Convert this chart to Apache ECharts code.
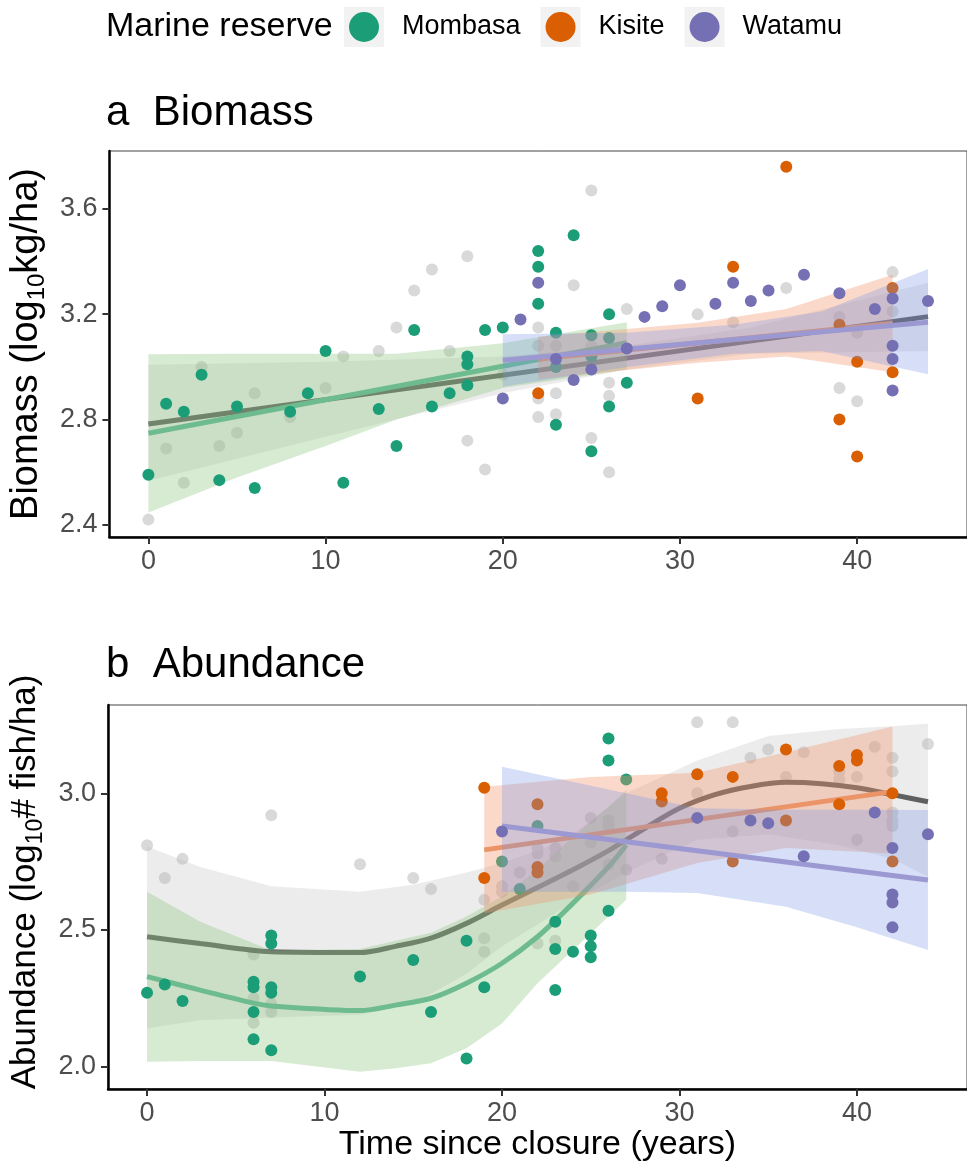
<!DOCTYPE html>
<html>
<head>
<meta charset="utf-8">
<script src="https://cdn.jsdelivr.net/npm/echarts@6/dist/echarts.min.js"></script>
<style>
  html, body { margin: 0; padding: 0; background: #fff; }
  #chart { width: 967px; height: 1169px; }
</style>
</head>
<body>
<div id="chart"></div>
<script>
const font = 'Liberation Sans, Arial, sans-serif'

const xTicks = [0, 10, 20, 30, 40]
const bioTicks = [2.4, 2.8, 3.2, 3.6]
const abuTicks = [2.0, 2.5, 3.0]
const reserves = ['Mombasa', 'Kisite', 'Watamu']

// ---- a Biomass: points [year, value]
const bioMombasa = [[0, 2.59], [1, 2.86], [2, 2.83], [3, 2.97], [4, 2.57], [5, 2.85], [6, 2.54], [8, 2.83], [9, 2.90],
  [10, 3.06], [11, 2.56], [13, 2.84], [14, 2.70], [15, 3.14], [16, 2.85], [17, 2.90], [18, 3.04], [18, 3.01], [18, 2.93],
  [19, 3.14], [20, 3.15], [22, 3.44], [22, 3.38], [22, 3.24], [23, 3.13], [23, 3.00], [23, 2.78], [24, 3.50], [25, 3.12],
  [25, 3.04], [25, 2.68], [26, 3.20], [26, 3.11], [26, 2.85], [27, 2.94]]
const bioKisite = [[22, 2.90], [31, 2.88], [33, 3.38], [36, 3.76], [39, 3.16], [39, 2.80], [40, 3.02], [40, 2.66],
  [42, 3.30], [42, 2.98]]
const bioWatamu = [[20, 2.88], [21, 3.18], [22, 3.32], [23, 3.03], [24, 2.95], [25, 2.99], [27, 3.07], [28, 3.19],
  [29, 3.23], [30, 3.31], [32, 3.24], [33, 3.32], [34, 3.25], [35, 3.29], [37, 3.35], [39, 3.28], [41, 3.22], [42, 3.26],
  [42, 3.08], [42, 3.03], [42, 2.91], [44, 3.25]]
const bioGray = [[0, 2.42], [1, 2.69], [2, 2.56], [3, 3.00], [4, 2.70], [5, 2.75], [6, 2.90], [8, 2.81], [10, 2.92],
  [11, 3.04], [13, 3.06], [14, 3.15], [15, 3.29], [16, 3.37], [17, 3.06], [18, 3.42], [18, 2.72], [19, 2.61], [20, 2.97],
  [22, 3.15], [22, 3.08], [22, 2.88], [22, 2.81], [23, 3.08], [23, 2.90], [23, 2.82], [24, 3.31], [25, 3.67], [25, 3.08],
  [25, 2.73], [26, 2.94], [26, 2.89], [26, 2.60], [27, 3.22], [31, 3.20], [33, 3.17], [36, 3.30], [39, 3.19], [39, 2.92],
  [40, 3.13], [40, 2.87], [42, 3.36], [42, 3.21]]

// fitted lines [year, value] and bands [year, lower, upper]
const bioGrayFit = [[0, 2.783], [44, 3.191]]
const bioGrayBand = [[0, 2.568, 3.008], [10, 2.735, 3.02], [20, 2.90, 3.04], [27, 2.99, 3.08], [34, 3.05, 3.15], [44, 3.06, 3.32]]
const bioMombasaFit = [[0, 2.748], [27, 3.092]]
const bioMombasaBand = [[0, 2.447, 3.048], [5, 2.58, 3.05], [10, 2.70, 3.05], [14, 2.80, 3.05], [20, 2.92, 3.09], [27, 2.99, 3.17]]
const bioKisiteFit = [[22, 3.03], [42, 3.165]]
const bioKisiteBand = [[22, 2.953, 3.115], [31, 3.016, 3.168], [36, 3.04, 3.22], [42, 2.98, 3.35]]
const bioWatamuFit = [[20, 3.025], [44, 3.17]]
const bioWatamuBand = [[20, 2.925, 3.124], [27, 3.00, 3.13], [33, 3.05, 3.16], [38, 3.06, 3.21], [44, 2.972, 3.372]]

// ---- b Abundance
const abuMombasa = [[0, 2.27], [1, 2.30], [2, 2.24], [6, 2.31], [6, 2.29], [6, 2.20], [6, 2.10], [7, 2.48], [7, 2.45],
  [7, 2.29], [7, 2.27], [7, 2.06], [12, 2.33], [15, 2.39], [16, 2.20], [18, 2.46], [18, 2.03], [19, 2.29], [20, 2.75],
  [21, 2.65], [22, 2.88], [23, 2.53], [23, 2.43], [23, 2.28], [24, 2.42], [25, 2.48], [25, 2.44], [25, 2.40], [26, 3.20],
  [26, 3.12], [26, 2.57], [27, 3.05]]
const abuKisite = [[19, 3.02], [19, 2.69], [22, 2.96], [22, 2.73], [22, 2.71], [29, 3.00], [29, 2.97], [31, 3.07],
  [33, 3.06], [33, 2.75], [36, 3.16], [36, 2.90], [39, 3.10], [39, 2.96], [40, 3.14], [40, 3.12], [42, 3.00], [42, 2.75]]
const abuWatamu = [[20, 2.86], [31, 2.91], [34, 2.90], [35, 2.89], [37, 2.77], [41, 2.93], [42, 2.80], [42, 2.63],
  [42, 2.60], [42, 2.51], [44, 2.85]]
const abuGray = [[0, 2.81], [1, 2.69], [2, 2.76], [6, 2.41], [6, 2.25], [6, 2.16], [7, 2.92], [7, 2.23], [7, 2.20],
  [12, 2.74], [15, 2.69], [16, 2.65], [19, 2.61], [19, 2.47], [19, 2.42], [20, 2.66], [20, 2.64], [21, 2.71], [22, 2.80],
  [22, 2.78], [22, 2.45], [23, 2.80], [23, 2.77], [23, 2.46], [24, 2.66], [25, 2.91], [25, 2.82], [26, 2.90], [26, 2.88],
  [26, 2.74], [27, 2.72], [29, 2.76], [31, 3.26], [31, 3.00], [33, 3.26], [33, 2.86], [34, 3.13], [35, 3.16], [36, 3.06],
  [37, 3.15], [39, 3.08], [39, 3.05], [40, 3.06], [40, 2.83], [41, 3.17], [42, 3.13], [42, 3.08], [42, 2.93], [42, 2.90],
  [42, 2.88], [44, 3.18]]

const abuGrayFit = [[0, 2.475], [3, 2.45], [7, 2.42], [12, 2.417], [14, 2.44], [16, 2.47], [18, 2.524], [20, 2.591],
  [22, 2.655], [24, 2.72], [26, 2.79], [28, 2.87], [30, 2.945], [32, 2.995], [34, 3.025], [36, 3.04], [38, 3.035],
  [40, 3.02], [42, 2.995], [44, 2.969]]
const abuGrayBand = [[0, 2.14, 2.805], [3, 2.17, 2.73], [7, 2.18, 2.66], [12, 2.19, 2.64], [15, 2.23, 2.665],
  [18, 2.34, 2.71], [20, 2.44, 2.745], [22, 2.52, 2.79], [24, 2.60, 2.85], [27, 2.71, 3.00], [31, 2.83, 3.12],
  [35, 2.85, 3.21], [39, 2.81, 3.235], [42, 2.76, 3.245], [44, 2.695, 3.254]]
const abuMombasaFit = [[0, 2.329], [3, 2.28], [6, 2.232], [7, 2.222], [12, 2.205], [14, 2.225], [16, 2.25], [18, 2.305],
  [20, 2.378], [22, 2.475], [24, 2.598], [26, 2.731], [27, 2.811]]
const abuMombasaBand = [[0, 2.018, 2.64], [3, 2.02, 2.53], [7, 2.02, 2.425], [12, 1.981, 2.43], [14, 1.994, 2.46],
  [16, 2.012, 2.49], [18, 2.067, 2.549], [20, 2.158, 2.622], [22, 2.305, 2.719], [24, 2.427, 2.841], [26, 2.549, 2.951],
  [27, 2.61, 3.012]]
const abuKisiteFit = [[19, 2.793], [42, 3.006]]
const abuKisiteBand = [[19, 2.561, 3.024], [25, 2.63, 3.06], [31, 2.745, 3.075], [36, 2.80, 3.15], [42, 2.78, 3.244]]
const abuWatamuFit = [[20, 2.88], [44, 2.683]]
const abuWatamuBand = [[20, 2.64, 3.097], [27, 2.64, 3.00], [31, 2.635, 2.945], [36, 2.585, 2.94], [40, 2.51, 2.94],
  [44, 2.427, 2.939]]

const chart = echarts.init(document.getElementById('chart'))

let zz = 2
function band(data, fill, gi) {
  return {
    type: 'custom', xAxisIndex: gi, yAxisIndex: gi, silent: true, z: zz++,
    data: data, encode: { x: 0, y: [1, 2] },
    renderItem(params, api) {
      if (params.dataIndex !== 0) return null
      const up = data.map(d => api.coord([d[0], d[2]]))
      const lo = data.slice().reverse().map(d => api.coord([d[0], d[1]]))
      return { type: 'polygon', shape: { points: up.concat(lo) }, style: { fill: fill } }
    }
  }
}
function fit(data, color, gi) {
  return {
    type: 'line', xAxisIndex: gi, yAxisIndex: gi, data: data, z: zz++, silent: true,
    symbol: 'none', showSymbol: false, smooth: 0.3,
    lineStyle: { color: color, width: 5 }
  }
}
function pts(name, data, color, gi) {
  return {
    name: name, type: 'scatter', xAxisIndex: gi, yAxisIndex: gi, data: data, z: zz++, silent: true,
    symbolSize: 12, itemStyle: { color: color, opacity: 1 }
  }
}

const cGray = '#d9d9d9'
const cGreen = '#1b9e77', cOrange = '#d95f02', cPurple = '#7570b3'
const fGray = 'rgba(185,185,185,0.28)', fGreen = 'rgba(140,200,130,0.36)'
const fOrange = 'rgba(240,150,110,0.36)', fPurple = 'rgba(120,150,230,0.30)'
const lGray = '#5f5f5f', lGreen = '#6dbb8f', lOrange = '#ea9468', lPurple = '#9c98d2'

function panel(gi, gray, grayBand, grayFit, mo, moBand, moFit, ki, kiBand, kiFit, wa, waBand, waFit) {
  return [
    pts('all', gray, cGray, gi),
    band(grayBand, fGray, gi), fit(grayFit, lGray, gi),
    band(moBand, fGreen, gi), fit(moFit, lGreen, gi), pts('Mombasa', mo, cGreen, gi),
    band(kiBand, fOrange, gi), fit(kiFit, lOrange, gi), pts('Kisite', ki, cOrange, gi),
    band(waBand, fPurple, gi), fit(waFit, lPurple, gi), pts('Watamu', wa, cPurple, gi)
  ]
}

function xAxis(gi, name) {
  return {
    gridIndex: gi, type: 'value', min: -2.2, max: 46.2,
    name: name, nameLocation: 'middle', nameGap: 34,
    nameTextStyle: { fontSize: 34, color: '#000', fontFamily: font },
    axisLine: { show: true, onZero: false, lineStyle: { color: '#000', width: 2.5 } },
    axisTick: { show: true, length: 7, customValues: xTicks, lineStyle: { color: '#333', width: 2 } },
    axisLabel: { customValues: xTicks, fontSize: 27, color: '#4d4d4d', margin: 11, fontFamily: font },
    splitLine: { show: false }
  }
}
function yAxis(gi, min, max, ticks, pre, post, size, sub, shift) {
  return {
    gridIndex: gi, type: 'value', min: min, max: max,
    name: '{t|' + pre + '}{s|10}{t|' + post + '}', nameLocation: 'middle', nameGap: 60, nameRotate: 90,
    nameTextStyle: {
      padding: [0, 0, 0, shift],
      rich: {
        t: { fontSize: size, color: '#000', fontFamily: font, lineHeight: 44 },
        s: { fontSize: sub, color: '#000', fontFamily: font, lineHeight: sub, verticalAlign: 'bottom' }
      }
    },
    axisLine: { show: true, onZero: false, lineStyle: { color: '#000', width: 2.5 } },
    axisTick: { show: true, length: 7, customValues: ticks, lineStyle: { color: '#333', width: 2 } },
    axisLabel: { customValues: ticks, formatter: v => v.toFixed(1), fontSize: 27, color: '#4d4d4d', margin: 12, fontFamily: font },
    splitLine: { show: false }
  }
}

const titleStyle = { fontWeight: 'normal', color: '#000', fontFamily: font }

chart.setOption({
  animation: false,
  backgroundColor: '#fff',
  title: [
    { text: 'Marine reserve', left: 106, top: 10, padding: 0, textStyle: Object.assign({ fontSize: 34 }, titleStyle) },
    { text: 'a  Biomass', left: 106, top: 92, padding: 0, textStyle: Object.assign({ fontSize: 42 }, titleStyle) },
    { text: 'b  Abundance', left: 106, top: 644, padding: 0, textStyle: Object.assign({ fontSize: 42 }, titleStyle) }
  ],
  legend: [
    {
      data: reserves, left: 344, top: 7, padding: 0, icon: 'rect', itemWidth: 40, itemHeight: 40, itemGap: 20,
      selectedMode: false, itemStyle: { color: '#f2f2f2' },
      textStyle: { fontSize: 27, color: 'rgba(0,0,0,0)', fontFamily: font, padding: [0, 0, 0, 13] }
    },
    {
      data: reserves, left: 349, top: 12, padding: 0, icon: 'circle', itemWidth: 30, itemHeight: 30, itemGap: 25,
      selectedMode: false,
      textStyle: { fontSize: 27, color: '#000', fontFamily: font, padding: [0, 0, 0, 18] }
    }
  ],
  grid: [
    { left: 108, top: 151, width: 865, height: 386, show: true, borderColor: '#444', borderWidth: 1, backgroundColor: 'transparent' },
    { left: 108, top: 705, width: 865, height: 384, show: true, borderColor: '#444', borderWidth: 1, backgroundColor: 'transparent' }
  ],
  xAxis: [xAxis(0, ''), xAxis(1, 'Time since closure (years)')],
  yAxis: [
    yAxis(0, 2.354, 3.82, bioTicks, 'Biomass (log', 'kg/ha)', 38, 24, 0),
    yAxis(1, 1.918, 3.323, abuTicks, 'Abundance (log', '# fish/ha)', 35, 23, 30)
  ],
  series: [].concat(
    panel(0, bioGray, bioGrayBand, bioGrayFit, bioMombasa, bioMombasaBand, bioMombasaFit,
      bioKisite, bioKisiteBand, bioKisiteFit, bioWatamu, bioWatamuBand, bioWatamuFit),
    panel(1, abuGray, abuGrayBand, abuGrayFit, abuMombasa, abuMombasaBand, abuMombasaFit,
      abuKisite, abuKisiteBand, abuKisiteFit, abuWatamu, abuWatamuBand, abuWatamuFit)
  )
})
</script>
</body>
</html>
